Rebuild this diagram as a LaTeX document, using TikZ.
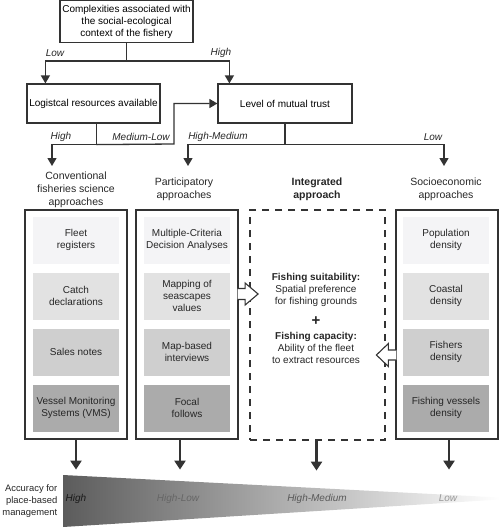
\documentclass[tikz,border=0pt]{standalone}
\usepackage{fontspec}
\setmainfont{Liberation Sans}
\usetikzlibrary{arrows.meta}
\definecolor{gry1}{HTML}{F4F4F6}
\definecolor{gry2}{HTML}{E2E2E2}
\definecolor{gry3}{HTML}{CFCFCF}
\definecolor{gry4}{HTML}{ABABAB}
\definecolor{lines}{HTML}{333333}
\begin{document}
\begin{tikzpicture}[x=1pt,y=-1pt,font=\fontsize{10}{12}\selectfont,
  box/.style={draw=lines,line width=1.2pt,align=center,inner sep=2pt},
  colbox/.style={draw=lines,line width=1.2pt,minimum width=102pt,minimum height=229pt},
  inbox/.style={align=center,minimum width=86pt,minimum height=47pt,inner sep=1pt,text=black!85},
  ttl/.style={align=center,font=\fontsize{10.5}{13}\selectfont,text=black!85},
  lbl/.style={font=\fontsize{10}{12}\selectfont\itshape,text=black!85},
  arr/.style={draw=lines,line width=1.3pt,-{Triangle[width=9pt,length=8pt]}},
  bigarr/.style={draw=lines,line width=2.6pt,-{Triangle[width=11pt,length=9pt]}},
  hollow/.style={draw=lines,fill=white,line width=1.1pt,line join=miter}]
\useasboundingbox (0,0) rectangle (500,528);

% decision part
\node[box,minimum width=133pt,minimum height=42pt] (cmplx) at (126.5,21.5) {Complexities associated with\\the social-ecological\\context of the fishery};
\node[box,minimum width=133pt,minimum height=39pt] (logist) at (93.5,103.5) {Logistcal resources available};
\node[box,minimum width=134pt,minimum height=39pt] (trust) at (285,103.5) {Level of mutual trust};

\draw[draw=lines,line width=1.3pt] (cmplx.south) -- ++(0,18) coordinate (j1);
\draw[arr] (j1) -| ([xshift=19pt]logist.north west);
\draw[arr] (j1) -| ([xshift=12pt]trust.north west);
\node[lbl] at (55,53) {Low};
\node[lbl] at (221,53) {High};

\coordinate (convin) at (52,166);
\coordinate (bend) at (174,144);
\draw[draw=lines,line width=1.3pt] ([xshift=3pt]logist.south) -- ++(0,21) coordinate (j2);
\draw[arr] (j2) -| (convin);
\draw[arr] (j2) -- (bend) |- (trust.west);
\node[lbl] at (61,137) {High};
\node[lbl] at (141,137) {Medium-Low};

\coordinate (partin) at (188,166);
\coordinate (socin) at (444,166);
\draw[draw=lines,line width=1.3pt] (trust.south) -- ++(0,21) coordinate (j3);
\draw[arr] (j3) -| (partin);
\draw[arr] (j3) -| (socin);
\node[lbl] at (218,137) {High-Medium};
\node[lbl] at (433,137) {Low};

% columns
\node[ttl] (convt) at (76,189.5) {Conventional\\fisheries science\\approaches};
\node[ttl] (partt) at (184,189) {Participatory\\approaches};
\node[ttl,font=\fontsize{10.5}{13}\selectfont\bfseries] (integt) at (317,189) {Integrated\\approach};
\node[ttl] (socit) at (446,189) {Socioeconomic\\approaches};

\node[colbox] (conv) at (76,324.5) {};
\node[colbox] (part) at (187,324.5) {};
\node[colbox,minimum width=135pt,minimum height=230pt,dash pattern=on 7pt off 6pt] (integ) at (317.5,325) {};
\node[colbox] (socio) at (447,324.5) {};

\foreach \txt [count=\i] in {{Fleet\\registers},{Catch\\declarations},{Sales notes},{Vessel Monitoring\\Systems (VMS)}}
  \node[inbox,fill=gry\i] (conv\i) at (76,184+56*\i) {\txt};
\foreach \txt [count=\i] in {{Multiple-Criteria\\Decision Analyses},{Mapping of\\seascapes\\values},{Map-based\\interviews},{Focal\\follows}}
  \node[inbox,fill=gry\i] (part\i) at (187,184+56*\i) {\txt};
\foreach \txt [count=\i] in {{Population\\density},{Coastal\\density},{Fishers\\density},{Fishing vessels\\density}}
  \node[inbox,fill=gry\i] (socio\i) at (446,184+56*\i) {\txt};

\node[align=center,text=black!85] (suit) at (316,290) {\textbf{Fishing suitability:}\\Spatial preference\\for fishing grounds};
\node[font=\fontsize{15}{15}\selectfont\bfseries,text=black!85] (plus) at (316,321) {+};
\node[align=center,text=black!85] (capac) at (316,347.5) {\textbf{Fishing capacity:}\\Ability of the fleet\\to extract resources};

\draw[hollow] ([xshift=-1pt,yshift=36pt]part.east) -- ++(7.5,0) -- ++(0,-5.5) -- ++(13,11) -- ++(-13,11) -- ++(0,-5.5) -- ++(-7.5,0);
\draw[hollow] ([xshift=1pt,yshift=-25.5pt]socio.west) -- ++(-8,0) -- ++(0,-6.5) -- ++(-12,11.5) -- ++(12,11.5) -- ++(0,-6.5) -- ++(8,0);

% accuracy
\foreach \n/\dx in {conv/0,part/-7,integ/-1,socio/2}
  \draw[bigarr] ([xshift=\dx pt]\n.south) -- ++(0,30);

\shade[left color=black!64,right color=white] (63,475) -- (500,497.5) -- (500,499.5) -- (63,527) -- cycle;
\node[anchor=east,align=right,inner sep=1pt,font=\fontsize{9.4}{12}\selectfont,text=black!85] (accu) at (58.5,501) {Accuracy for\\place-based\\management};
\node[lbl,text=black!90] (acchi) at (76,499) {High};
\node[lbl,text=black!60] (acchl) at (178,499) {High-Low};
\node[lbl,text=black!65] (acchm) at (317,499) {High-Medium};
\node[lbl,text=black!40] (acclo) at (448,498) {Low};
\end{tikzpicture}
\end{document}
